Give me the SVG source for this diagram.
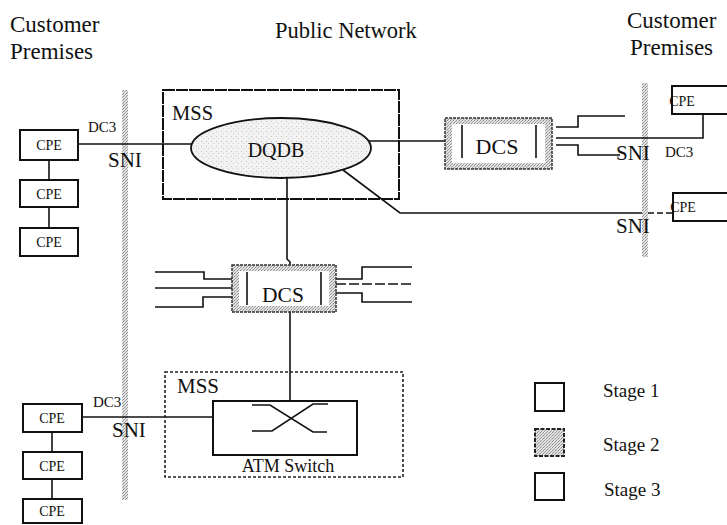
<svg xmlns="http://www.w3.org/2000/svg" width="727" height="525" viewBox="0 0 727 525">
<defs>
<pattern id="stip" width="3" height="3" patternUnits="userSpaceOnUse">
<rect width="3" height="3" fill="#e2e2e2"/>
<rect x="0" y="0" width="1" height="1" fill="#8a8a8a"/>
<rect x="2" y="1" width="1" height="1" fill="#a8a8a8"/>
<rect x="1" y="2" width="1" height="1" fill="#999"/>
</pattern>
<pattern id="light" width="5" height="5" patternUnits="userSpaceOnUse">
<rect width="5" height="5" fill="#f2f2f2"/>
<rect x="1" y="1" width="1" height="1" fill="#c4c4c4"/>
<rect x="3" y="3" width="1" height="1" fill="#d0d0d0"/>
</pattern>
<style>
text{font-family:"Liberation Serif","Times New Roman",serif;fill:#111}
.box{fill:#fff;stroke:#111;stroke-width:2}
.ln{fill:none;stroke:#111;stroke-width:1.6}
.cpe{font-size:14px;text-anchor:middle}
.sni{font-size:21px}
.dc3{font-size:15px}
.band{fill:url(#stip)}
</style>
</defs>
<rect width="727" height="525" fill="#fff"/>

<g id="titles">
<text x="10" y="32" font-size="23">Customer</text>
<text x="10" y="59" font-size="23">Premises</text>
<text x="275" y="38" font-size="22.5">Public Network</text>
<text x="627" y="28" font-size="23">Customer</text>
<text x="630" y="55" font-size="23">Premises</text>
</g>

<g id="sni-bands">
<rect class="band" x="122" y="90" width="6" height="410"/>
<rect class="band" x="642" y="83" width="6" height="174"/>
</g>

<g id="connectors">
<polyline class="ln" points="78,144 192,144"/>
<polyline class="ln" points="369,141 445,141"/>
<polyline class="ln" points="287,178 287,259 290,262 290,265"/>
<polyline class="ln" points="343,170 400,213 642,213"/>
<polyline class="ln" points="648,213 673,213" stroke-dasharray="6 3"/>
<polyline class="ln" points="556,127 578,127 578,116 625,116"/>
<polyline class="ln" points="556,138 703,138 703,114"/>
<polyline class="ln" points="556,145 578,145 578,155 620,155"/>
<polyline class="ln" points="155,272 204,272 204,279 232,279"/>
<polyline class="ln" points="155,288 232,288"/>
<polyline class="ln" points="155,307 203,307 203,297 232,297"/>
<polyline class="ln" points="336,279 362,279 362,267 412,267"/>
<polyline class="ln" points="336,284 412,284" stroke-dasharray="10 3"/>
<polyline class="ln" points="336,293 362,293 362,302 412,302"/>
<polyline class="ln" points="290,312 290,401"/>
<polyline class="ln" points="82,417 213,417"/>
<polyline class="ln" points="49,160 49,180"/>
<polyline class="ln" points="49,207 49,228"/>
<polyline class="ln" points="52,432 52,452"/>
<polyline class="ln" points="52,479 52,499"/>
</g>

<g id="cpe-left-1"><rect class="box" x="20" y="130" width="58" height="30"/><text class="cpe" x="49" y="150">CPE</text></g>
<g id="cpe-left-2"><rect class="box" x="20" y="180" width="58" height="27"/><text class="cpe" x="49" y="199">CPE</text></g>
<g id="cpe-left-3"><rect class="box" x="20" y="228" width="58" height="28"/><text class="cpe" x="49" y="247">CPE</text></g>

<g id="cpe-left-4"><rect class="box" x="23" y="404" width="59" height="28"/><text class="cpe" x="52" y="423">CPE</text></g>
<g id="cpe-left-5"><rect class="box" x="23" y="452" width="59" height="27"/><text class="cpe" x="52" y="471">CPE</text></g>
<g id="cpe-left-6"><rect class="box" x="23" y="499" width="59" height="24"/><text class="cpe" x="52" y="516">CPE</text></g>

<g id="cpe-right-1"><rect class="box" x="672" y="86" width="70" height="28"/><text class="cpe" x="682" y="106" text-anchor="start">CPE</text></g>
<g id="cpe-right-2"><rect class="box" x="673" y="193" width="70" height="28"/><text class="cpe" x="683" y="212" text-anchor="start">CPE</text></g>

<g id="mss-top">
<rect x="163" y="90" width="236" height="109" fill="none" stroke="#111" stroke-width="2" stroke-dasharray="12 1"/>
<text x="172" y="120" font-size="20.5">MSS</text>
</g>
<g id="dqdb">
<ellipse cx="281" cy="148" rx="90" ry="30" fill="url(#light)" stroke="#111" stroke-width="1.8"/>
<text x="276" y="157" font-size="20" text-anchor="middle">DQDB</text>
</g>

<g id="dcs-right">
<rect x="445" y="118" width="107" height="51" fill="url(#stip)" stroke="#333" stroke-width="1.5" stroke-dasharray="3 1"/>
<rect x="452" y="124" width="93" height="39" fill="#fff"/>
<line x1="462" y1="125" x2="462" y2="158" class="ln"/>
<line x1="536" y1="125" x2="536" y2="158" class="ln"/>
<text x="497" y="154" font-size="22" text-anchor="middle">DCS</text>
</g>

<g id="dcs-center">
<rect x="232" y="265" width="104" height="47" fill="url(#stip)" stroke="#333" stroke-width="1.5" stroke-dasharray="3 1"/>
<rect x="239" y="271" width="90" height="35" fill="#fff"/>
<line x1="247" y1="272" x2="247" y2="305" class="ln"/>
<line x1="321" y1="272" x2="321" y2="305" class="ln"/>
<text x="283" y="302" font-size="21.5" text-anchor="middle">DCS</text>
</g>

<g id="mss-bottom">
<rect x="165" y="372" width="238" height="105" fill="none" stroke="#222" stroke-width="1.6" stroke-dasharray="3 2"/>
<text x="177" y="393" font-size="21">MSS</text>
</g>
<g id="atm-switch">
<rect x="213" y="401" width="144" height="54" fill="#fff" stroke="#111" stroke-width="2"/>
<polyline class="ln" points="252,405 270,405 313,432 327,432"/>
<polyline class="ln" points="252,431 272,431 313,404 328,404"/>
<text x="288" y="472" font-size="18" text-anchor="middle">ATM Switch</text>
</g>

<g id="labels">
<text class="dc3" x="88" y="132">DC3</text>
<text class="sni" x="108" y="167">SNI</text>
<text class="dc3" x="93" y="407">DC3</text>
<text class="sni" x="112" y="437">SNI</text>
<text class="sni" x="616" y="160">SNI</text>
<text class="dc3" x="665" y="157">DC3</text>
<text class="sni" x="616" y="233">SNI</text>
</g>

<g id="legend">
<rect x="535" y="383" width="29" height="28" fill="#fff" stroke="#111" stroke-width="2"/>
<rect x="535" y="429" width="29" height="27" fill="url(#stip)" stroke="#222" stroke-width="2" stroke-dasharray="4 1.5"/>
<rect x="535" y="473" width="29" height="27" fill="#fff" stroke="#111" stroke-width="2"/>
<text x="603" y="397" font-size="19">Stage 1</text>
<text x="603" y="451" font-size="19">Stage 2</text>
<text x="604" y="496" font-size="19">Stage 3</text>
</g>
</svg>
